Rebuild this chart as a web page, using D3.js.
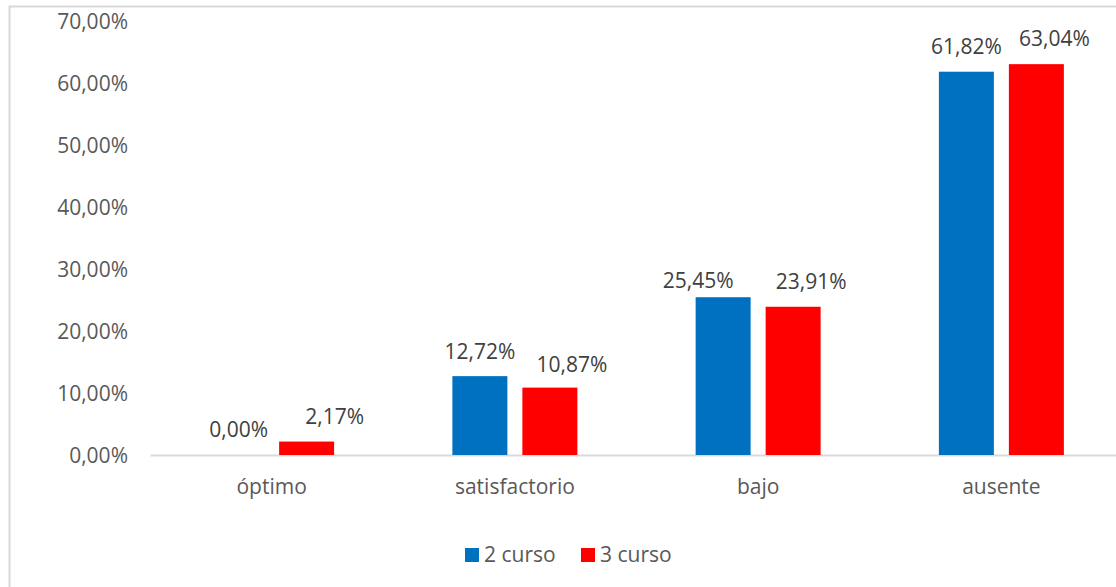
<!DOCTYPE html>
<html>
<head>
<meta charset="utf-8">
<script src="https://cdn.jsdelivr.net/npm/d3@7"></script>
<style>
  html, body { margin: 0; padding: 0; background: #fff; }
  svg { display: block; }
  text { font-family: "Open Sans", "Liberation Sans", sans-serif; }
</style>
</head>
<body>
<svg id="chart" width="1116" height="587"></svg>
<script>
// Resultados por nivel, 2º y 3º curso (porcentajes)
const categories = ["óptimo", "satisfactorio", "bajo", "ausente"];
const seriesNames = ["2 curso", "3 curso"];
const curso2 = [0.00, 12.72, 25.45, 61.82];
const curso3 = [2.17, 10.87, 23.91, 63.04];
const yTicks = [0, 10, 20, 30, 40, 50, 60, 70];
const colors = ["#0070C0", "#FF0000"];

// hand-placed data label nudges (px) so neighbouring labels don't collide
const labelNudge = [
  { dx: [2, 0, -25, 0], dy: [0, 1, 8, 0] },
  { dx: [28, 22, 18, 18], dy: [0, 2, 0, -1] }
];

const svg = d3.select("#chart");
const W = 1116, H = 587;
const FS = 21;

// chart frame
svg.append("rect")
  .attr("x", 9.5).attr("y", 6.5)
  .attr("width", W + 20).attr("height", H + 20)
  .attr("fill", "none").attr("stroke", "#D9D9D9").attr("stroke-width", 2);

const plot = { left: 150, right: 1123, top: 21, bottom: 455 };

const x = d3.scaleBand().domain(categories).range([plot.left, plot.right]).padding(0);
const y = d3.scaleLinear().domain([0, 70]).range([plot.bottom, plot.top]);

const fmt = v => d3.format(".2f")(v).replace(".", ",") + "%";

// y axis labels (no axis line, no gridlines)
const yAxis = d3.axisLeft(y).tickValues(yTicks).tickFormat(fmt).tickSize(0).tickPadding(0);
const gy = svg.append("g").attr("transform", `translate(128,0)`).call(yAxis);
gy.select(".domain").remove();
gy.selectAll("text")
  .attr("fill", "#595959").attr("font-size", FS).attr("dy", "0.35em");

// x axis
const xAxis = d3.axisBottom(x).tickSize(0).tickPadding(0);
const gx = svg.append("g").attr("transform", `translate(0,${plot.bottom})`).call(xAxis);
gx.select(".domain").attr("stroke", "#D9D9D9").attr("stroke-width", 2);
gx.selectAll("text")
  .attr("fill", "#595959").attr("font-size", FS).attr("y", 32).attr("dy", "0.35em");

// grouped bars
const barW = 55, gap = 15;
const series = [curso2, curso3];
const inner = d3.scaleOrdinal().domain([0, 1])
  .range([-(gap / 2) - barW, gap / 2]);

series.forEach((vals, si) => {
  const g = svg.append("g");
  g.selectAll("rect").data(vals).join("rect")
    .attr("x", (d, i) => x(categories[i]) + x.bandwidth() / 2 + inner(si))
    .attr("y", d => y(d))
    .attr("width", barW)
    .attr("height", d => y(0) - y(d))
    .attr("fill", colors[si]);
  g.selectAll("text").data(vals).join("text")
    .attr("x", (d, i) => x(categories[i]) + x.bandwidth() / 2 + inner(si) + barW / 2 + labelNudge[si].dx[i])
    .attr("y", (d, i) => y(d) - 25 + labelNudge[si].dy[i])
    .attr("dy", "0.35em")
    .attr("text-anchor", "middle")
    .attr("font-size", FS)
    .attr("fill", "#404040")
    .text(d => fmt(d));
});

// legend
const legendItems = [
  { name: seriesNames[0], color: colors[0], x: 465 },
  { name: seriesNames[1], color: colors[1], x: 581 }
];
const lg = svg.append("g");
legendItems.forEach(it => {
  lg.append("rect").attr("x", it.x).attr("y", 548).attr("width", 14).attr("height", 14).attr("fill", it.color);
  lg.append("text").attr("x", it.x + 19).attr("y", 555).attr("dy", "0.35em")
    .attr("font-size", FS).attr("fill", "#595959").text(it.name);
});
</script>
</body>
</html>
